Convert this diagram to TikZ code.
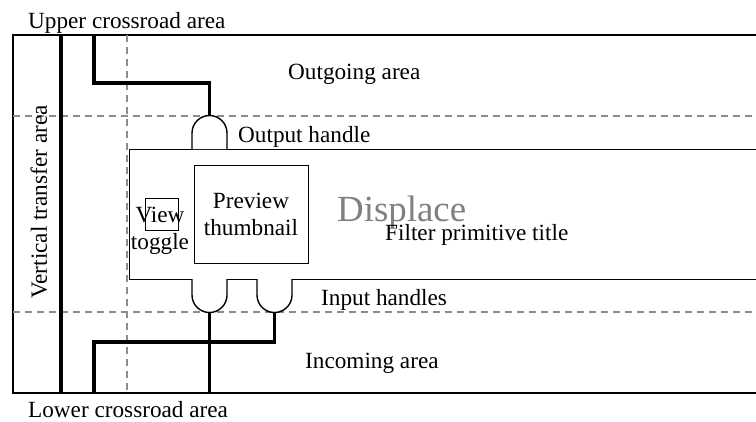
\documentclass[tikz,border=0pt]{standalone}
\usepackage{fontspec}
\setmainfont{Liberation Serif}
\begin{document}
\begin{tikzpicture}[x=1bp,y=-1bp,
  thin line/.style={draw=black, line width=1.4bp},
  thick line/.style={draw=black, line width=3.5bp},
  guide/.style={draw=black!45, line width=1.3bp, dash pattern=on 7bp off 5bp},
  box/.style={draw=black, line width=1.4bp, inner sep=0pt},
  lbl/.style={font=\fontsize{23.3}{27}\selectfont, inner sep=0pt, text=black},
  handle/.style={draw=black, line width=1.4bp, fill=white}]
\useasboundingbox (0,0) rectangle (756,421);
\clip (0,0) rectangle (756,421);
% outer frame
\draw[thin line] (13,35) rectangle (800,393);
% guides
\draw[guide] (13,116) -- (800,116);
\draw[guide] (13,312) -- (800,312);
\draw[guide] (127,35) -- (127,393);
% main filter box
\node[box, fill=white, anchor=north west, minimum width=700bp, minimum height=130bp] (main) at (129,149) {};
% preview thumbnail
\node[box, anchor=north west, minimum width=114bp, minimum height=98bp] (prev) at (194,165) {};
\node[lbl, align=center] (prevt) at (251,214) {Preview\\thumbnail};
% view toggle
\node[box, anchor=north west, minimum width=33bp, minimum height=32bp] (vt) at (145,198) {};
\node[lbl, align=center] (vtt) at (160,231) {View\\toggle};
% handles
\coordinate (oh) at (209.5,116);
\coordinate (ih1) at (209.5,312);
\coordinate (ih2) at (274.5,312);
\draw[handle] (192,149) -- (192,133) arc[start angle=180,end angle=0,radius=17.5bp] -- (227,149);
\draw[handle] (192,279) -- (192,295) arc[start angle=180,end angle=360,radius=17.5bp] -- (227,279);
\draw[handle] (257,279) -- (257,295) arc[start angle=180,end angle=360,radius=17.5bp] -- (292,279);
% connectors
\coordinate (vtop) at (61,35);
\coordinate (vbot) at (61,393);
\coordinate (utop) at (94,35);
\coordinate (lbot1) at (94,393);
\coordinate (lbot2) at (209.5,393);
\draw[thick line] (vtop) -- (vbot);
\draw[thick line] (utop) -- (94,83) -| (oh);
\draw[thick line] (ih1) -- (lbot2);
\draw[thick line] (ih2) -- (274.5,342) -| (lbot1);
% labels
\node[lbl, anchor=base west] (upper) at (28,28) {Upper crossroad area};
\node[lbl, anchor=base west] (lower) at (28,417) {Lower crossroad area};
\node[lbl, anchor=base west] (outg) at (288,79) {Outgoing area};
\node[lbl, anchor=base west] (outh) at (238,142) {Output handle};
\node[lbl, anchor=base west, text=black!50, font=\fontsize{37}{40}\selectfont] (disp) at (337,221) {Displace};
\node[lbl, anchor=base west] (fpt) at (385,240) {Filter primitive title};
\node[lbl, anchor=base west] (inh) at (321,305) {Input handles};
\node[lbl, anchor=base west] (inc) at (305,368) {Incoming area};
\node[lbl, rotate=90] (vta) at (39,202) {Vertical transfer area};
\end{tikzpicture}
\end{document}
